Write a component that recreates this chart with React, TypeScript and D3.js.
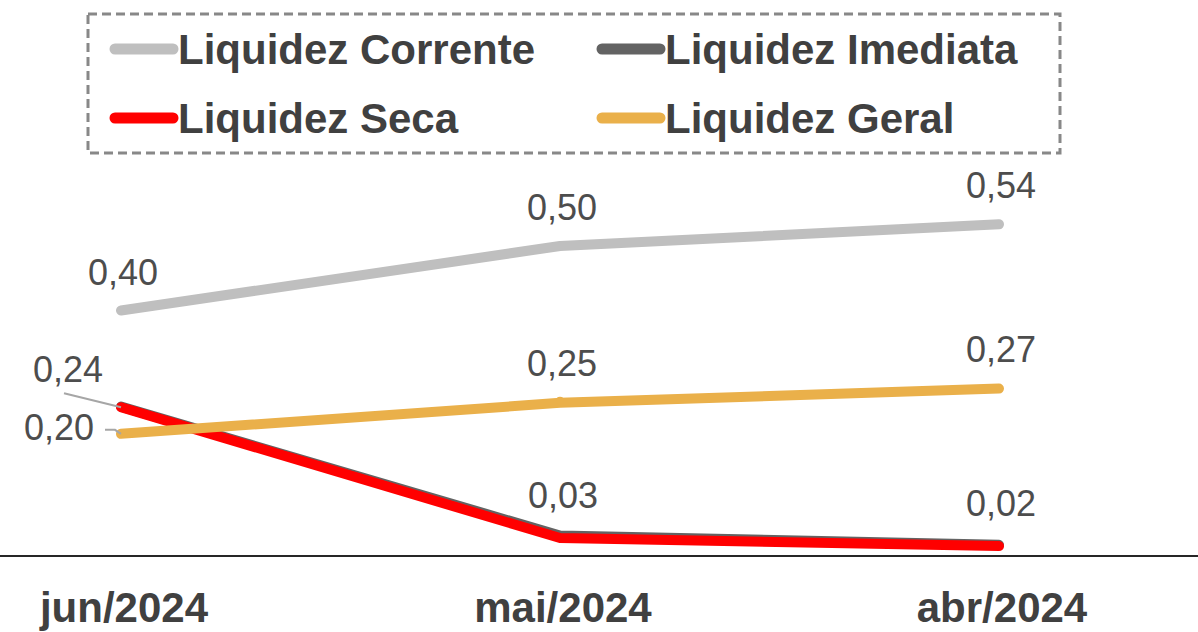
import React, { useEffect, useRef } from 'react';
import * as d3 from 'd3';

const categories = ['jun/2024', 'mai/2024', 'abr/2024'];

const liquidezCorrente = [0.396, 0.5, 0.535];
const liquidezImediata = [0.241, 0.033, 0.018];
const liquidezSeca = [0.24, 0.029, 0.016];
const liquidezGeral = [0.197, 0.247, 0.27];

const seriesNames = ['Liquidez Corrente', 'Liquidez Imediata', 'Liquidez Seca', 'Liquidez Geral'];
const seriesColors = ['#BFBFBF', '#636363', '#FF0000', '#EAB04A'];

const App = () => {
  const chartRef = useRef<SVGSVGElement | null>(null);

  useEffect(() => {
    if (!chartRef.current) return;
    const width = 1198;
    const height = 632;
    const font = 'Arial, "Liberation Sans", sans-serif';
    const textColor = '#404040';
    const labelColor = '#4D4D4D';

    const series = [liquidezCorrente, liquidezImediata, liquidezSeca, liquidezGeral].map((values, i) => ({
      name: seriesNames[i],
      color: seriesColors[i],
      values
    }));

    const x = d3.scalePoint<string>()
      .domain(categories)
      .range([121, 999]);

    const y = d3.scaleLinear()
      .domain([0, 0.6])
      .range([556, 184]);

    const fmt = (v: number) => v.toFixed(2).replace('.', ',');

    const svg = d3.select(chartRef.current);
    svg.selectAll('*').remove();
    svg.attr('width', width).attr('height', height).attr('viewBox', `0 0 ${width} ${height}`);

    svg.append('rect').attr('width', width).attr('height', height).attr('fill', '#fff');

    // axis line at zero
    svg.append('line')
      .attr('x1', 0).attr('x2', width)
      .attr('y1', y(0)).attr('y2', y(0))
      .attr('stroke', '#262626')
      .attr('stroke-width', 2);

    // category labels
    svg.append('g')
      .selectAll('text')
      .data(categories)
      .join('text')
      .attr('x', d => (x(d) as number) + 3)
      .attr('y', 622)
      .attr('text-anchor', 'middle')
      .attr('font-family', font)
      .attr('font-weight', 'bold')
      .attr('font-size', 42)
      .attr('fill', textColor)
      .text(d => d);

    const line = d3.line<number>()
      .x((_d, i) => x(categories[i]) as number)
      .y(d => y(d));

    svg.append('g')
      .selectAll('path')
      .data(series)
      .join('path')
      .attr('d', d => line(d.values))
      .attr('fill', 'none')
      .attr('stroke', d => d.color)
      .attr('stroke-width', 10)
      .attr('stroke-linecap', 'round')
      .attr('stroke-linejoin', 'round');

    // small marker on Liquidez Geral
    svg.append('circle')
      .attr('cx', x(categories[1]) as number)
      .attr('cy', y(liquidezGeral[1]) - 2)
      .attr('r', 4)
      .attr('fill', seriesColors[3]);

    // data labels (Imediata sits under Seca, its labels hidden)
    const labelOffsets: Record<string, [number, number][]> = {
      'Liquidez Corrente': [[2, -25], [2, -26], [2, -26]],
      'Liquidez Seca': [[-53, -25], [3, -30], [2, -30]],
      'Liquidez Geral': [[-62, 6], [2, -27], [2, -27]]
    };
    const labelled = series.filter(s => labelOffsets[s.name]);
    labelled.forEach(s => {
      s.values.forEach((v, i) => {
        const px = x(categories[i]) as number;
        const py = y(v);
        const [dx, dy] = labelOffsets[s.name][i];
        svg.append('text')
          .attr('x', px + dx)
          .attr('y', py + dy)
          .attr('text-anchor', 'middle')
          .attr('font-family', font)
          .attr('font-size', 36)
          .attr('fill', labelColor)
          .text(fmt(v));
      });
    });

    // leader lines for the two crowded labels
    const p0Seca: [number, number] = [x(categories[0]) as number, y(liquidezSeca[0])];
    const p0Geral: [number, number] = [x(categories[0]) as number, y(liquidezGeral[0])];
    svg.append('line')
      .attr('x1', p0Seca[0] - 57).attr('y1', p0Seca[1] - 14)
      .attr('x2', p0Seca[0]).attr('y2', p0Seca[1])
      .attr('stroke', '#A6A6A6').attr('stroke-width', 2);
    svg.append('polyline')
      .attr('points', `${p0Geral[0] - 16},${p0Geral[1] - 4} ${p0Geral[0] - 6},${p0Geral[1] - 4} ${p0Geral[0]},${p0Geral[1]}`)
      .attr('fill', 'none')
      .attr('stroke', '#A6A6A6').attr('stroke-width', 2);

    // legend
    const legend = svg.append('g');
    legend.append('rect')
      .attr('x', 88).attr('y', 14)
      .attr('width', 972).attr('height', 139)
      .attr('fill', 'none')
      .attr('stroke', '#888')
      .attr('stroke-width', 3)
      .attr('stroke-dasharray', '9 5');

    const legendPos: [number, number][] = [[115, 49], [602, 49], [115, 118], [602, 118]];
    const items = legend.selectAll('g.item')
      .data(series)
      .join('g')
      .attr('class', 'item')
      .attr('transform', (_d, i) => `translate(${legendPos[i][0]},${legendPos[i][1]})`);

    items.append('line')
      .attr('x1', 0).attr('x2', 58)
      .attr('y1', 0).attr('y2', 0)
      .attr('stroke', d => d.color)
      .attr('stroke-width', 11)
      .attr('stroke-linecap', 'round');

    items.append('text')
      .attr('x', 63)
      .attr('y', 15)
      .attr('font-family', font)
      .attr('font-weight', 'bold')
      .attr('font-size', 42)
      .attr('fill', textColor)
      .text(d => d.name);
  }, []);

  return (
    <svg
      ref={chartRef}
      style={{ position: 'absolute', left: 0, top: 0, display: 'block' }}
    />
  );
};

export default App;
